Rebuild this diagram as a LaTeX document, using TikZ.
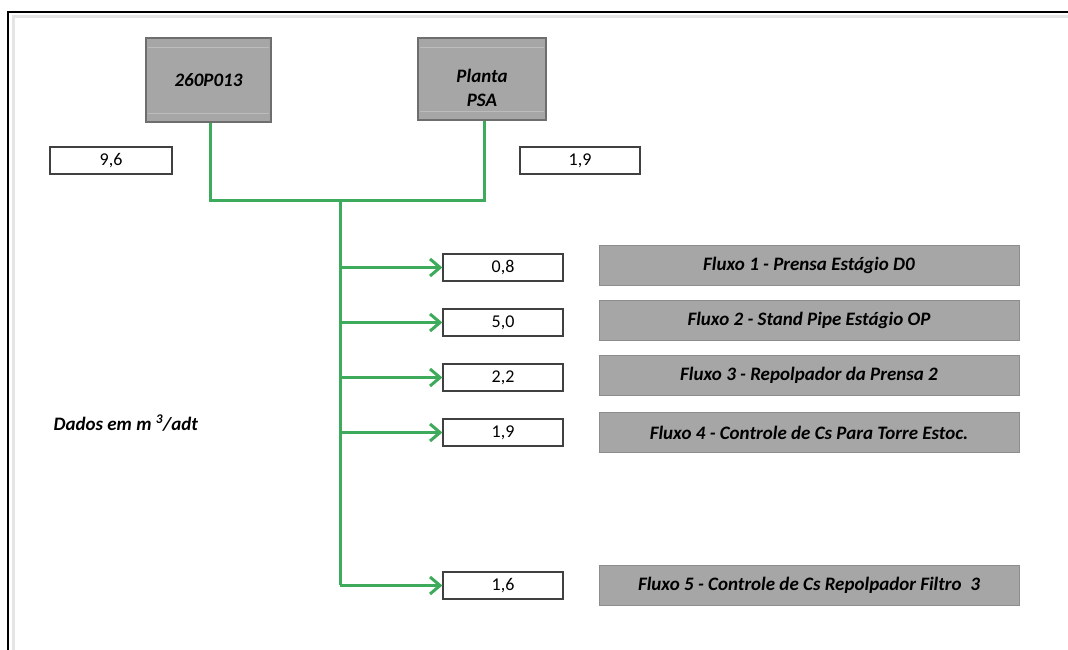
\documentclass[tikz,border=0pt]{standalone}
\usepackage{fontspec}
\setmainfont{Carlito}
\usetikzlibrary{arrows.meta}
\definecolor{flow}{HTML}{3DAA5C}
\definecolor{boxgray}{HTML}{A6A6A6}
\definecolor{boxedge}{HTML}{6E6E6E}
\begin{document}
\begin{tikzpicture}[x=1pt,y=-1pt,
  srcbox/.style={draw=boxedge,line width=1.8pt,fill=boxgray,minimum width=125pt,minimum height=84pt,inner sep=0pt,font=\fontsize{19}{24}\selectfont\bfseries\itshape,align=center},
  valbox/.style={draw=black!75,line width=1.3pt,fill=white,minimum width=120pt,minimum height=27pt,inner sep=0pt,font=\fontsize{18}{20}\selectfont},
  flowbox/.style={fill=boxgray,draw=boxgray!85!black,line width=0.6pt,minimum width=420pt,minimum height=40pt,inner sep=0pt,font=\fontsize{19}{21}\selectfont\bfseries\itshape},
  pipe/.style={draw=flow,line width=3pt},
  arr/.style={pipe,-{Straight Barb[length=10pt,width=17pt,line width=3pt]}}]
\useasboundingbox (0,0) rectangle (1068,650);
\fill[white] (0,0) rectangle (1068,650);
\draw[line width=2.5pt] (8,1200) -- (8,12) -- (1200,12);
\draw[black!10,line width=3pt] (13,700) -- (13,17) -- (1100,17);
% source boxes
\node[srcbox] (src1) at (208.5,80) {260P013};
\node[srcbox,minimum width=128pt,minimum height=82pt] (src2) at (482,79) {};
\node[font=\fontsize{19}{24}\selectfont\bfseries\itshape,align=center] (src2t) at (482,88) {Planta\\PSA};
\foreach \n in {src1,src2}{
  \draw[boxgray!75!white,line width=0.6pt] ([xshift=3pt,yshift=-10pt]\n.north west) -- ([xshift=-3pt,yshift=-10pt]\n.north east);
  \draw[boxgray!75!white,line width=0.6pt] ([xshift=3pt,yshift=10pt]\n.south west) -- ([xshift=-3pt,yshift=10pt]\n.south east);
}
% top values
\node[valbox,minimum width=122pt] (v96) at (111,160.5) {9,6};
\node[valbox] (v19a) at (580,160.5) {1,9};
% pipes
\coordinate (j1) at (210,200);
\coordinate (j2) at (484,200);
\coordinate (jm) at (340,200);
\coordinate (bot) at (340,585);
\draw[pipe,line join=miter] (src1.south -| j1) -- (j1) -- (j2) -- (src2.south -| j2);
\draw[pipe] (jm) -- (bot);
% value boxes and flows
\foreach \name/\v/\y/\fy/\txt in {
  a/{0,8}/267.5/265/{Fluxo 1 - Prensa Estágio D0},
  b/{5,0}/322.5/320/{Fluxo 2 - Stand Pipe Estágio OP},
  c/{2,2}/377.5/375/{Fluxo 3 - Repolpador da Prensa 2},
  d/{1,9}/432.5/432.5/{Fluxo 4 - Controle de Cs Para Torre Estoc.},
  e/{1,6}/585.5/585/{Fluxo 5 - Controle de Cs Repolpador Filtro\ \ 3}}{
  \node[valbox] (val\name) at (503,\y) {\v};
  \node[flowbox] (fl\name) at (809,\fy) {\txt};
  \coordinate (br\name) at (340,\y);
  \draw[arr] (br\name) -- (val\name.west);
}
\node[anchor=west,font=\fontsize{19}{21}\selectfont\bfseries\itshape] (dados) at (50,423) {Dados em m \textsuperscript{3}/adt};
\end{tikzpicture}
\end{document}
